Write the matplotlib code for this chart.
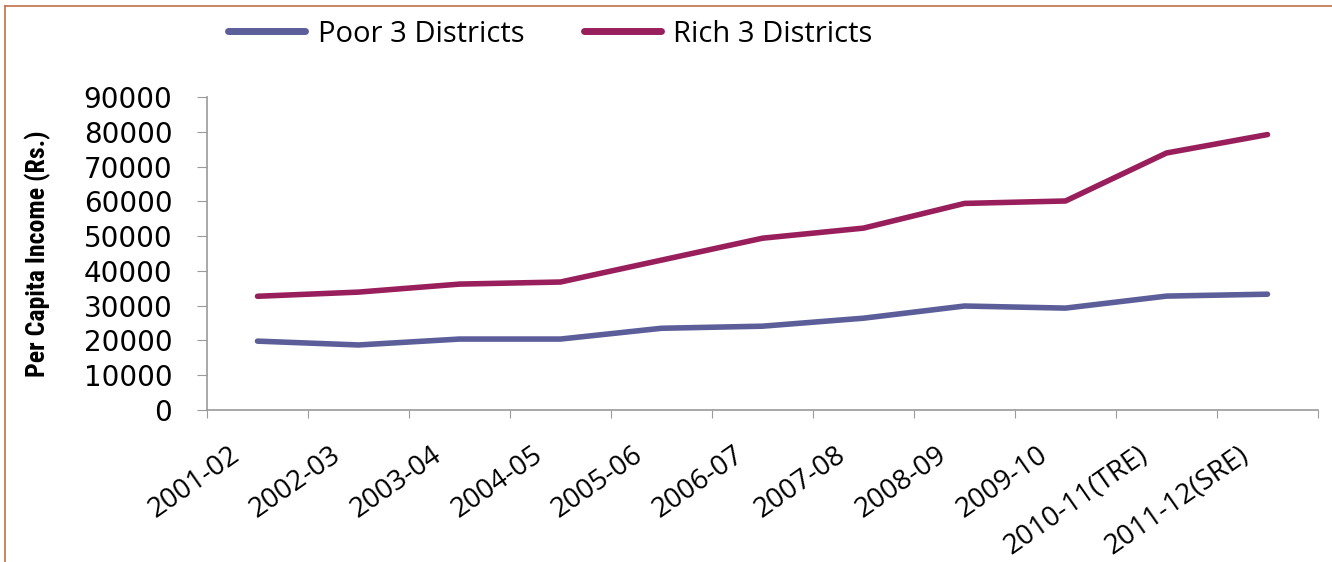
import numpy as np
import matplotlib
matplotlib.use("Agg")
import matplotlib.pyplot as plt
from matplotlib.lines import Line2D
from matplotlib.transforms import ScaledTranslation, blended_transform_factory
from matplotlib import font_manager

years = ["2001-02", "2002-03", "2003-04", "2004-05", "2005-06", "2006-07",
         "2007-08", "2008-09", "2009-10", "2010-11(TRE)", "2011-12(SRE)"]
poor = [19800, 18700, 20400, 20400, 23500, 24100, 26400, 29900, 29300, 32750, 33300]
rich = [32700, 33900, 36200, 36800, 43100, 49400, 52300, 59400, 60100, 73900, 79200]

poor_col = "#5b5e99"
rich_col = "#991f5c"
axis_col = "#9a9a9a"

W, H = 1332, 562
fig = plt.figure(figsize=(W/100, H/100), dpi=100)
ax = fig.add_axes([207/W, 1-410/H, (1318-207)/W, (410-97)/H])

x = np.arange(len(years))
ax.plot(x, poor, color=poor_col, lw=4, solid_capstyle="round", label="Poor 3 Districts")
ax.plot(x, rich, color=rich_col, lw=4, solid_capstyle="round", label="Rich 3 Districts")

ax.set_xlim(-0.5, len(years) - 0.5)
ax.set_ylim(0, 90000)
ax.set_yticks(np.arange(0, 90001, 10000))
ax.set_yticklabels([str(v) for v in range(0, 90001, 10000)],
                   fontsize=20, family="DejaVu Sans")

# category ticks sit between the points
ax.set_xticks(np.arange(-0.5, len(years)))
ax.set_xticklabels([])
ax.tick_params(axis="x", length=5.5, color=axis_col, direction="out")
ax.tick_params(axis="y", length=7, color=axis_col, direction="out", pad=18)

# slanted category names, ending a little left of each point
trans = blended_transform_factory(ax.transData, ax.transAxes) + \
    ScaledTranslation(-0.29, -0.31, fig.dpi_scale_trans)
for xi, name in zip(x, years):
    ax.text(xi, 0, name, transform=trans, rotation=35, ha="right", va="top",
            rotation_mode="anchor", fontsize=20, family="Open Sans")

for s in ["top", "right"]:
    ax.spines[s].set_visible(False)
for s in ["left", "bottom"]:
    ax.spines[s].set_color(axis_col)
    ax.spines[s].set_linewidth(1.2)

# narrow bold face for the axis title, first one that is installed
names = {f.name for f in font_manager.fontManager.ttflist}
ylab_font = next((f for f in ["Liberation Sans Narrow", "DejaVu Sans Condensed",
                              "Roboto Condensed", "Lato"] if f in names), "DejaVu Sans")
ylab = fig.text(38/W, 1-253.5/H, "Per Capita Income (Rs.)", rotation=90,
                ha="center", va="center", fontweight="bold", family=ylab_font,
                fontsize=17)
fig.canvas.draw()
ext = ylab.get_window_extent()
ylab.set_fontsize(17 * 247 / ext.height)

fig.legend(loc="center left", bbox_to_anchor=(228/W, 1-34/H), ncol=2,
           frameon=False, prop={"family": "Open Sans", "size": 21},
           borderpad=0, borderaxespad=0,
           handlelength=2.65, handletextpad=0.42, columnspacing=2.05)
for h in fig.legends[0].get_lines():
    h.set_linewidth(5)
    h.set_solid_capstyle("round")

# outer frame line along top and left edge
border = "#c0714a"
fig.add_artist(Line2D([5/W, 1], [1-6/H, 1-6/H], color=border, lw=1.2))
fig.add_artist(Line2D([5/W, 5/W], [0, 1-6/H], color=border, lw=1.2))

fig.savefig("out.png", dpi=100)
